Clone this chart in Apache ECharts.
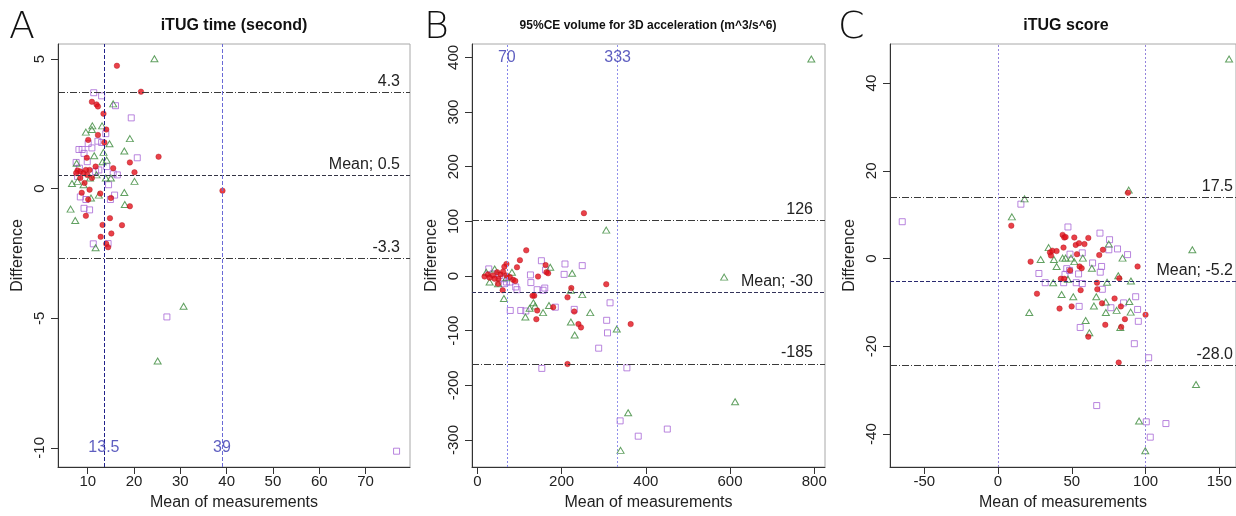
<!DOCTYPE html>
<html>
<head>
<meta charset="utf-8">
<script src="https://cdn.jsdelivr.net/npm/echarts@6/dist/echarts.min.js"></script>
<style>
  html, body { margin: 0; padding: 0; background: #fff; }
  #chart { width: 1236px; height: 516px; }
</style>
</head>
<body>
<div id="chart"></div>
<script>
// ---------- Panel A: iTUG time (second) ----------
const aRed = [[16.3,4.74],[21.5,3.74],[10.9,3.35],[11.9,3.25],[12.2,3.17],[13.4,2.89],[14.0,2.28],[12.2,2.07],
  [13.6,1.78],[10.1,1.88],[9.8,1.19],[25.3,1.23],[19.1,1.01],[20.1,0.63],[15.5,0.79],[11.7,0.85],[10.4,0.72],
  [7.8,0.70],[8.4,0.66],[9.1,0.60],[9.6,0.72],[9.9,0.53],[10.9,0.41],[8.4,0.41],[7.5,0.60],[9.3,0.22],
  [39.1,-0.08],[8.7,-0.16],[10.4,-0.04],[10.1,-0.42],[12.7,-0.19],[15.0,-0.36],[19.1,-0.68],[9.6,-1.05],
  [14.8,-1.14],[13.2,-1.40],[17.4,-1.41],[15.1,-1.73],[12.8,-1.86],[14.0,-2.13],[14.4,-2.26]];
const aGreen = [[24.4,5.01],[15.5,3.27],[11.0,2.42],[10.9,2.28],[13.1,2.42],[9.6,2.18],[14.7,1.73],[19.1,1.93],
  [17.9,1.45],[11.4,1.27],[13.4,1.40],[13.2,1.04],[14.1,1.10],[11.9,0.53],[13.9,0.41],[15.0,0.41],[20.1,0.28],
  [6.6,0.20],[7.8,0.28],[10.5,0.41],[17.9,-0.15],[12.4,-0.25],[10.7,-0.36],[18.0,-0.61],[6.3,-0.79],
  [7.3,-1.23],[11.7,-2.28],[30.7,-4.54],[25.1,-6.65],[7.6,0.98],[9.1,0.15]];
const aPurple = [[11.3,3.70],[13.0,3.58],[16.0,3.20],[19.4,2.73],[13.9,2.12],[12.2,1.83],[13.0,1.78],[10.1,1.74],
  [10.9,1.57],[8.1,1.51],[8.8,1.51],[9.2,1.36],[9.9,1.04],[20.7,1.19],[7.5,1.01],[8.2,0.79],[12.4,0.72],
  [11.7,0.66],[15.5,0.57],[16.4,0.53],[14.1,0.85],[14.5,0.15],[15.8,-0.25],[14.9,-0.42],[8.4,-0.32],
  [9.6,-0.42],[9.2,-0.76],[10.4,-0.82],[11.2,-2.13],[14.4,-2.12],[27.1,-4.95],[76.7,-10.13],[7.8,0.47]];
const aHLines = [3.7, 0.5, -2.7];
const aHLabels = ['4.3', 'Mean; 0.5', '-3.3'];
const aVLines = [13.5, 39];
const aVLabels = ['13.5', '39'];
const aXTicks = [10, 20, 30, 40, 50, 60, 70];
const aYTicks = [-10, -5, 0, 5];

// ---------- Panel B: 95%CE volume for 3D acceleration ----------
const bRed = [[253,115],[116,47],[101,29],[94,16],[69,22],[64,17],[306,-15],[162,20],[164,7],[168,5],[144,-1],
  [223,-22],[214,-39],[135,-36],[131,-36],[180,-57],[142,-63],[140,-79],[230,-65],[240,-88],[246,-94],
  [364,-88],[214,-161],[17,-1],[25,3],[37,1],[47,7],[55,3],[50,-5],[41,-5],[61,8],[77,-2],[85,-7],[90,-9],
  [60,-26],[29,-3],[69,1],[49,-14]];
const bGreen = [[793,397],[306,84],[586,-2],[173,16],[225,5],[249,-34],[222,-26],[268,-67],[156,-67],[170,-54],
  [133,-49],[137,-55],[124,-59],[114,-75],[222,-84],[231,-108],[331,-97],[63,-41],[29,-11],[49,-14],
  [41,13],[82,7],[21,7],[69,-3],[612,-230],[358,-250],[340,-319]];
const bPurple = [[152,28],[208,22],[249,19],[162,11],[126,2],[206,3],[127,-12],[142,-25],[160,-22],[156,-26],
  [94,-25],[91,-20],[103,-63],[115,-64],[78,-63],[185,-57],[230,-61],[315,-49],[307,-81],[309,-104],
  [288,-132],[355,-168],[153,-169],[339,-265],[382,-293],[451,-280],[27,13],[61,-5],[69,-11],[77,-11],
  [64,-14],[53,1],[37,4]];
const bHLines = [102, -30, -161];
const bHLabels = ['126', 'Mean; -30', '-185'];
const bVLines = [70, 333];
const bVLabels = ['70', '333'];
const bXTicks = [0, 200, 400, 600, 800];
const bYTicks = [-300, -200, -100, 0, 100, 200, 300, 400];

// ---------- Panel C: iTUG score ----------
const cRed = [[88.1,15.0],[9.0,7.5],[22.1,-0.7],[26.4,-8.0],[35.2,1.4],[35.9,0.7],[36.8,1.8],[39.7,1.7],
  [43.8,5.4],[44.9,4.8],[45.8,4.9],[44.4,2.5],[51.7,4.8],[52.7,3.1],[54.9,3.5],[58.6,3.3],[61.2,4.7],
  [53.5,1.0],[68.6,0.8],[71.1,2.0],[94.6,-1.8],[55.3,-1.8],[56.7,-2.2],[42.6,-4.6],[44.9,-4.6],[48.8,-2.7],
  [67.1,-5.5],[67.3,-7.0],[56.0,-7.2],[82.2,-4.5],[70.5,-10.2],[49.9,-10.9],[41.7,-11.4],[79.0,-9.1],
  [83.3,-10.9],[100.0,-12.8],[86.0,-13.8],[72.7,-15.1],[83.5,-15.6],[61.2,-17.8],[81.8,-23.7]];
const cGreen = [[156.6,45.5],[131.7,2.0],[134.2,-28.7],[18.0,13.6],[9.4,9.5],[21.2,-12.3],[28.9,-0.2],
  [34.3,2.5],[37.9,-0.2],[39.7,-1.8],[43.8,0.1],[45.8,0.1],[49.5,0.1],[51.7,-0.7],[57.5,0.1],[63.6,-2.2],
  [75.1,3.3],[84.4,0.1],[81.5,-3.9],[90.1,-5.1],[73.9,-5.4],[37.4,-5.5],[47.4,-4.7],[43.1,-8.2],[51.0,-8.7],
  [66.6,-8.7],[73.0,-9.9],[89.0,-9.8],[65.0,-10.8],[73.1,-12.3],[80.4,-11.8],[89.9,-12.2],[59.4,-14.1],
  [61.9,-16.9],[82.9,-15.7],[95.6,-37.0],[99.8,-43.8],[88.6,15.6]];
const cPurple = [[-64.9,8.4],[15.5,12.4],[47.4,7.2],[69.1,5.8],[75.6,4.3],[81.0,2.2],[87.8,0.9],[75.1,2.0],
  [57.1,1.3],[48.8,1.0],[64.1,-1.0],[70.2,-1.8],[69.3,-3.1],[27.7,-3.4],[32.0,-5.5],[46.6,-2.3],[48.5,-2.7],
  [45.4,-3.6],[44.5,-5.5],[53.0,-5.5],[57.1,-5.7],[54.6,-3.5],[70.7,-7.0],[76.5,-11.2],[85.1,-10.1],
  [93.3,-8.7],[94.6,-11.6],[95.1,-14.3],[55.0,-10.9],[55.7,-15.7],[92.4,-19.4],[102.1,-22.6],[66.9,-33.5],
  [100.5,-37.2],[103.2,-40.7],[113.8,-37.6]];
const cHLines = [13.9, -5.2, -24.3];
const cHLabels = ['17.5', 'Mean; -5.2', '-28.0'];
const cVLines = [0, 100];
const cVLabels = ['', ''];
const cXTicks = [-50, 0, 50, 100, 150];
const cYTicks = [-40, -20, 0, 20, 40];

const FONT = 'Liberation Sans, Arial, sans-serif';
const RED = '#e3121c', GREEN = '#3b8a3b', PURPLE = '#a866d6';

// the right-hand panel runs off the page edge, so its box stops at the canvas border
const panels = [
  { left: 58, width: 352, xr: [3.58, 79.6], yr: [-10.74, 5.58], xt: aXTicks, yt: aYTicks,
    red: aRed, green: aGreen, purple: aPurple, h: aHLines, hl: aHLabels, v: aVLines, vl: aVLabels,
    vLabelY: -10, vColors: ['#22228a', '#6a6ad6'], vDash: [4, 2], meanColor: '#333344', lblInset: 10 },
  { left: 472, width: 353, xr: [-12.8, 825.5], yr: [-349.4, 424.5], xt: bXTicks, yt: bYTicks,
    red: bRed, green: bGreen, purple: bPurple, h: bHLines, hl: bHLabels, v: bVLines, vl: bVLabels,
    vLabelY: 400, vColors: ['#8484ec', '#9090ec'], vDash: [2, 2], meanColor: '#33335a', lblInset: 12 },
  { left: 890, width: 346, xr: [-73.2, 161.3], yr: [-47.5, 48.9], xt: cXTicks, yt: cYTicks,
    red: cRed, green: cGreen, purple: cPurple, h: cHLines, hl: cHLabels, v: cVLines, vl: cVLabels,
    vLabelY: 0, vColors: ['#9484dc', '#9484dc'], vDash: [2, 2], meanColor: '#2a2a70', lblInset: 3 }
];

const grid = [], xAxis = [], yAxis = [], series = [];
panels.forEach((p, i) => {
  grid.push({ left: p.left, top: 44, width: p.width, height: 429, show: true,
    borderColor: '#a8a8a8', borderWidth: 1, backgroundColor: 'transparent' });
  xAxis.push({ gridIndex: i, type: 'value', min: p.xr[0], max: p.xr[1],
    name: 'Mean of measurements', nameLocation: 'middle', nameGap: 28,
    nameTextStyle: { fontFamily: FONT, fontSize: 16, color: '#222' },
    axisLine: { show: true, onZero: false, lineStyle: { color: '#333', width: 1 } },
    axisTick: { show: true, length: 7, customValues: p.xt, lineStyle: { color: '#333' } },
    axisLabel: { customValues: p.xt, margin: 7, fontFamily: FONT, fontSize: 15, color: '#222' },
    splitLine: { show: false } });
  yAxis.push({ gridIndex: i, type: 'value', min: p.yr[0], max: p.yr[1],
    name: 'Difference', nameLocation: 'middle', nameGap: 32,
    nameTextStyle: { fontFamily: FONT, fontSize: 16, color: '#222' },
    axisLine: { show: true, onZero: false, lineStyle: { color: '#333', width: 1 } },
    axisTick: { show: true, length: 7, customValues: p.yt, lineStyle: { color: '#333' } },
    axisLabel: { customValues: p.yt, rotate: 90, margin: 11, fontFamily: FONT, fontSize: 15, color: '#222' },
    splitLine: { show: false } });

  const hStyles = [
    { color: '#3a3a3a', type: [7, 2, 1, 2], width: 1 },
    { color: p.meanColor, type: [4, 2], width: 1 },
    { color: '#3a3a3a', type: [7, 2, 1, 2], width: 1 }
  ];
  const markData = p.h.map((v, k) => ({
    yAxis: v, lineStyle: hStyles[k],
    label: { show: true, position: 'insideEndTop', formatter: p.hl[k], distance: [p.lblInset, 3],
      fontFamily: FONT, fontSize: 16, color: '#222' }
  })).concat(p.v.map((v, k) => ({
    xAxis: v, lineStyle: { color: p.vColors[k], type: p.vDash, width: 1 }, label: { show: false }
  })));

  series.push({ type: 'scatter', xAxisIndex: i, yAxisIndex: i, data: p.purple, symbol: 'rect',
    symbolSize: 6, itemStyle: { color: 'rgba(255,255,255,0)', borderColor: PURPLE, borderWidth: 1 },
    markLine: { silent: true, symbol: 'none', animation: false, data: markData }, z: 2 });
  series.push({ type: 'scatter', xAxisIndex: i, yAxisIndex: i, data: p.green, symbol: 'triangle',
    symbolSize: [7, 6], itemStyle: { color: 'rgba(255,255,255,0)', borderColor: GREEN, borderWidth: 1 }, z: 3 });
  series.push({ type: 'scatter', xAxisIndex: i, yAxisIndex: i, data: p.red, symbol: 'circle',
    symbolSize: 5.5, itemStyle: { color: RED, borderColor: '#b0101a', borderWidth: 0.5 }, z: 4 });
  // value labels for the vertical reference lines
  series.push({ type: 'scatter', xAxisIndex: i, yAxisIndex: i, symbolSize: 0, silent: true, z: 5,
    data: p.v.map((v, k) => ({ value: [v, p.vLabelY], name: p.vl[k] })),
    label: { show: true, position: 'inside', formatter: d => d.name,
      fontFamily: FONT, fontSize: 16, color: '#3636b0' } });
});

const titles = [
  { x: 234, text: 'iTUG time (second)', size: 16 },
  { x: 648, text: '95%CE volume for 3D acceleration (m^3/s^6)', size: 12 },
  { x: 1066, text: 'iTUG score', size: 16 }
];
const letters = [{ x: 9, t: 'A' }, { x: 424, t: 'B' }, { x: 838, t: 'C' }];

const graphic = titles.map(t => ({ type: 'text', x: t.x, y: 26,
  style: { text: t.text, fontFamily: FONT, fontWeight: 'bold', fontSize: t.size, fill: '#111',
    textAlign: 'center', textVerticalAlign: 'middle' } }))
  .concat(letters.map(l => ({ type: 'text', x: l.x, y: 28,
    style: { text: l.t, fontFamily: 'DejaVu Sans, sans-serif', fontWeight: 200, fontSize: 38, fill: '#111',
      textAlign: 'left', textVerticalAlign: 'middle' } })));

const chart = echarts.init(document.getElementById('chart'), null, { renderer: 'canvas' });
chart.setOption({ animation: false, backgroundColor: '#fff', grid, xAxis, yAxis, series, graphic });
</script>
</body>
</html>
